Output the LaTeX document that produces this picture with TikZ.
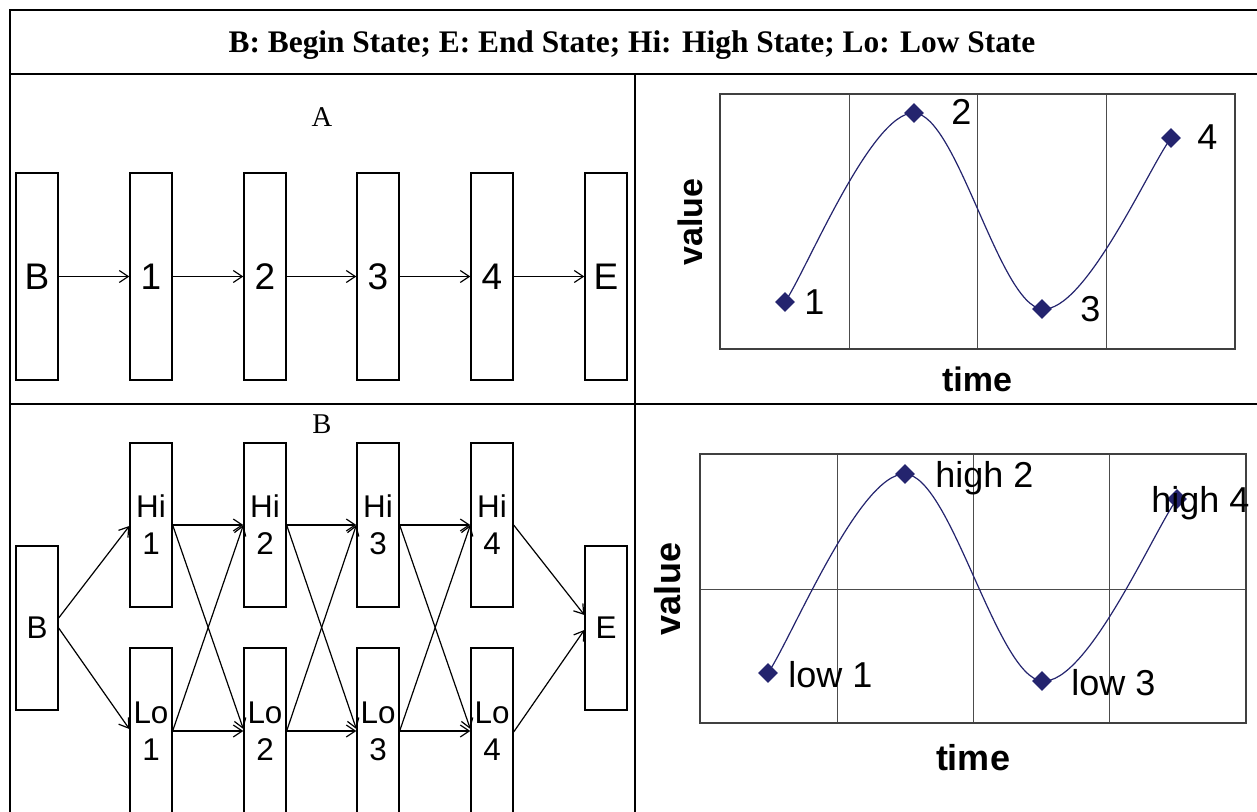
\documentclass[tikz,border=0pt]{standalone}
\usepackage{fontspec}
\setmainfont{Liberation Serif}
\setsansfont{Liberation Sans}
\usetikzlibrary{arrows.meta,shapes.geometric}
\definecolor{navy}{RGB}{36,36,110}
\begin{document}
\begin{tikzpicture}[x=0.5pt,y=-0.5pt,
  tbl/.style={line width=1pt,draw=black},
  sbox/.style={draw=black,line width=0.65pt,minimum width=21pt,inner sep=0pt,align=center},
  tallbox/.style={sbox,minimum height=103.5pt,font=\sffamily\fontsize{18.5}{22}\selectfont},
  hbox/.style={sbox,minimum height=82pt,font=\sffamily\fontsize{15.7}{18.5}\selectfont},
  lbox/.style={sbox,minimum height=83pt,font=\sffamily\fontsize{15.7}{18.5}\selectfont},
  arr/.style={line width=0.6pt,-{Straight Barb[length=4.5pt,width=6pt]}},
  frame/.style={draw=black!75,line width=0.75pt},
  grid/.style={draw=black!70,line width=0.5pt},
  curve/.style={draw=navy,line width=0.6pt},
  pt/.style={diamond,fill=navy,inner sep=0pt,minimum width=10pt,minimum height=10pt},
  lab/.style={anchor=base west,inner sep=0pt,font=\sffamily\fontsize{18}{20}\selectfont},
  axlab/.style={inner sep=0pt,font=\sffamily\bfseries\fontsize{17}{20}\selectfont},
  panel/.style={anchor=base,inner sep=0pt,font=\fontsize{14.3}{17}\selectfont}]
\useasboundingbox (0,0) rectangle (1257,812);
\clip (0,0) rectangle (1257,812);
\fill[white] (0,0) rectangle (1257,812);

% table
\draw[tbl] (10,820) -- (10,10) -- (1265,10);
\draw[tbl] (10,74) -- (1265,74);
\draw[tbl] (10,404) -- (1265,404);
\draw[tbl] (635,74) -- (635,820);
\node[anchor=base,inner sep=0pt,font=\bfseries\fontsize{15.7}{18}\selectfont] (title) at (632,53)
  {B: Begin State; E: End State; Hi: High State; Lo: Low State};

% panel A
\node[panel] (labA) at (322,127) {A};
\node[tallbox] (a0) at (37,276.5) {B};
\node[tallbox] (a1) at (151,276.5) {1};
\node[tallbox] (a2) at (265,276.5) {2};
\node[tallbox] (a3) at (378,276.5) {3};
\node[tallbox] (a4) at (492,276.5) {4};
\node[tallbox] (a5) at (606,276.5) {E};
\foreach \i/\j in {a0/a1,a1/a2,a2/a3,a3/a4,a4/a5} \draw[arr] (\i) -- (\j);

% panel B
\node[panel] (labB) at (322,433) {B};
\node[hbox] (b0) at (37,628) {B};
\node[hbox] (b5) at (606,628) {E};
\node[hbox] (h1) at (151,525) {Hi\\1};
\node[hbox] (h2) at (265,525) {Hi\\2};
\node[hbox] (h3) at (378,525) {Hi\\3};
\node[hbox] (h4) at (492,525) {Hi\\4};
\node[lbox] (l1) at (151,731) {Lo\\1};
\node[lbox] (l2) at (265,731) {Lo\\2};
\node[lbox] (l3) at (378,731) {Lo\\3};
\node[lbox] (l4) at (492,731) {Lo\\4};
\draw[arr] ([yshift=5pt]b0.east) -- ([yshift=-0.5pt]h1.west);
\draw[arr] (b0.east) -- ([yshift=1pt]l1.west);
\foreach \a/\b in {1/2,2/3,3/4}{
  \draw[arr] (h\a.east) -- (h\b.west);
  \draw[arr] (l\a.east) -- (l\b.west);
  \draw[arr] (h\a.east) -- ([yshift=1pt]l\b.west);
  \draw[arr] (l\a.east) -- (h\b.west);
}
\draw[arr] (h4.east) -- ([yshift=6.5pt]b5.west);
\draw[arr] ([yshift=-0.5pt]l4.east) -- ([yshift=-1pt]b5.west);

% chart 1
\draw[grid] (849,94) -- (849,349) (977,94) -- (977,349) (1106,94) -- (1106,349);
\draw[frame] (720,94) rectangle (1235,349);
\coordinate (p1) at (785,302);
\coordinate (p2) at (914,113);
\coordinate (p3) at (1042,309);
\coordinate (p4) at (1171,138);
\draw[curve] (p1) .. controls (806.5,270.5) and (871.2,111.8) .. (p2)
  .. controls (956.8,114.2) and (999.2,304.8) .. (p3)
  .. controls (1084.8,313.2) and (1149.5,166.5) .. (p4);
\node[pt] (d1) at (p1) {};
\node[pt] (d2) at (p2) {};
\node[pt] (d3) at (p3) {};
\node[pt] (d4) at (p4) {};
\node[lab] (t1) at (804,315) {1};
\node[lab] (t2) at (951,125) {2};
\node[lab] (t3) at (1080,322) {3};
\node[lab] (t4) at (1197,150) {4};
\node[axlab,rotate=90] (v1) at (690,222) {value};
\node[axlab,anchor=base] (x1) at (977,392) {time};

% chart 2
\draw[grid] (837,454) -- (837,723) (973,454) -- (973,723) (1109,454) -- (1109,723) (700,589) -- (1246,589);
\draw[frame] (700,454) rectangle (1246,723);
\coordinate (q1) at (768,673);
\coordinate (q2) at (905,474);
\coordinate (q3) at (1042,681);
\coordinate (q4) at (1177,499);
\draw[curve] (q1) .. controls (790.8,639.8) and (859.3,472.7) .. (q2)
  .. controls (950.7,475.3) and (996.7,676.8) .. (q3)
  .. controls (1087.3,685.2) and (1154.5,529.3) .. (q4);
\node[pt] (e1) at (q1) {};
\node[pt] (e2) at (q2) {};
\node[pt] (e3) at (q3) {};
\node[pt] (e4) at (q4) {};
\node[lab] (s1) at (788,687) {low 1};
\node[lab] (s2) at (935,487) {high 2};
\node[lab] (s3) at (1071,695) {low 3};
\node[lab] (s4) at (1151,512) {high 4};
\node[axlab,rotate=90,font=\sffamily\bfseries\fontsize{18}{20}\selectfont] (v2) at (668,589) {value};
\node[axlab,anchor=base,font=\sffamily\bfseries\fontsize{18}{20}\selectfont] (x2) at (973,770) {time};
\end{tikzpicture}
\end{document}
